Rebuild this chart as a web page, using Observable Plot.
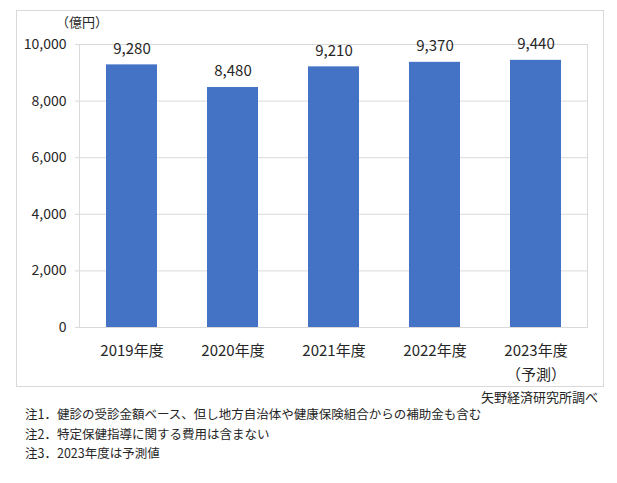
<!DOCTYPE html>
<html>
<head>
<meta charset="utf-8">
<script src="https://cdn.jsdelivr.net/npm/d3@7"></script>
<script src="https://cdn.jsdelivr.net/npm/@observablehq/plot@0.6"></script>
<style>
  body { margin: 0; background: #fff; font-family: "Noto Sans CJK JP", sans-serif; color: #262626; }
  #wrap { position: relative; width: 617px; height: 483px; overflow: hidden; }
  #box { position: absolute; left: 16px; top: 10px; width: 588px; height: 377px; border: 1px solid #d9d9d9; box-sizing: border-box; }
  #chart { position: absolute; left: 0; top: 0; }
  #unit { position: absolute; left: 56px; top: 14px; font-size: 13px; line-height: 16px; }
  #source { position: absolute; right: 19px; top: 389px; font-size: 13px; line-height: 16px; }
  #notes { position: absolute; left: 25px; top: 404px; font-size: 12.5px; line-height: 19.5px; }
</style>
</head>
<body>
<div id="wrap">
  <div id="box"></div>
  <div id="chart"></div>
  <div id="unit">（億円）</div>
  <div id="source">矢野経済研究所調べ</div>
  <div id="notes">
    <div>注1．健診の受診金額ベース、但し地方自治体や健康保険組合からの補助金も含む</div>
    <div>注2．特定保健指導に関する費用は含まない</div>
    <div>注3．2023年度は予測値</div>
  </div>
</div>
<script>
const categories = ["2019年度", "2020年度", "2021年度", "2022年度", "2023年度"];
const values = [9280, 8480, 9210, 9370, 9440];
const tickLabels = ["2019年度", "2020年度", "2021年度", "2022年度", "2023年度\n（予測）"];
const yTicks = [0, 2000, 4000, 6000, 8000, 10000];

const data = categories.map((c, i) => ({cat: c, value: values[i]}));
const labelOf = new Map(categories.map((c, i) => [c, tickLabels[i]]));
const fmt = d3.format(",");

const chart = Plot.plot({
  width: 617,
  height: 395,
  marginLeft: 79,
  marginRight: 30,
  marginTop: 44,
  marginBottom: 68,
  style: { fontFamily: "Noto Sans CJK JP", fontSize: "14px", color: "#262626", background: "transparent" },
  x: { domain: categories, paddingInner: 0.5, paddingOuter: 0.25 },
  y: { domain: [0, 10000] },
  marks: [
    Plot.gridY(yTicks, { stroke: "#d9d9d9", strokeOpacity: 1 }),
    Plot.frame({ stroke: "#d9d9d9" }),
    Plot.axisY(yTicks, { tickSize: 4, tickPadding: 9, stroke: "#d9d9d9", fill: "#262626", fontSize: 14, tickFormat: fmt, label: null }),
    Plot.barY(data, { x: "cat", y: "value", fill: "#4472C4" }),
    Plot.text(data, { x: "cat", y: "value", text: d => fmt(d.value), dy: -16, fontSize: 15, fill: "#262626" }),
    Plot.axisX({ tickSize: 0, tickPadding: 11, fontSize: 15, fill: "#262626", label: null, lineHeight: 1.6, tickFormat: c => labelOf.get(c) })
  ]
});
document.getElementById("chart").appendChild(chart);
</script>
</body>
</html>
